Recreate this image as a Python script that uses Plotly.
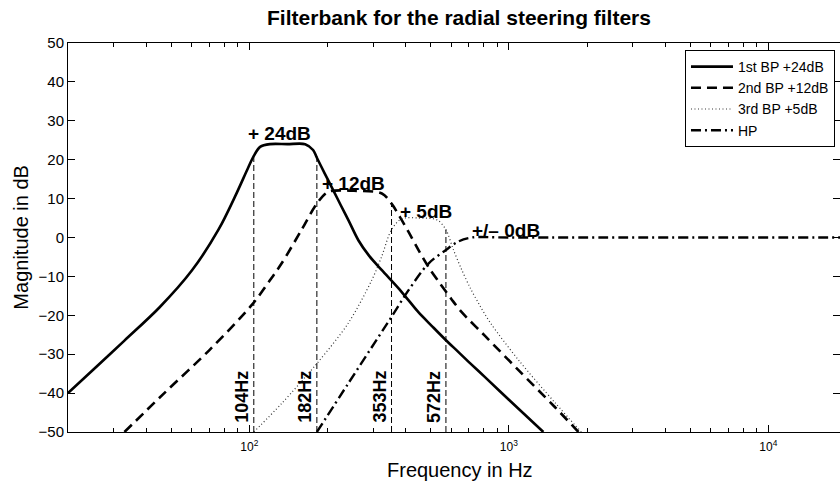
import math
import plotly.graph_objects as go

# values (frequency in Hz, magnitude in dB)
freq_bp1 = [20, 25, 33, 45, 60, 76, 88, 99, 104, 110, 120, 140, 164, 176, 182, 195, 211, 225, 241,
            263, 290, 324, 375, 410, 448, 504, 572, 638, 698, 809, 1000, 1358]
db_bp1 = [-40, -34, -26.5, -18, -8.5, 2, 10.5, 18, 21, 23.3, 24, 24, 24, 22.5, 20.5, 16.5, 12, 8.3, 4.4,
          -0.7, -4.8, -8.4, -13, -16.1, -19.2, -22.7, -26.4, -29.4, -31.9, -35.9, -41.7, -50]

freq_bp2 = [33, 47, 70, 102, 120, 133, 159, 182, 201, 253, 324, 353, 380, 410, 448, 490, 540, 600,
            658, 809, 1089, 1500, 1854]
db_bp2 = [-50, -40, -29, -17.4, -11, -6.7, 2, 8.7, 11.7, 12, 11.3, 8.7, 5.3, 1.5, -3.2, -7.6, -11.6,
          -15.8, -19.2, -25.3, -34.1, -43.5, -50]

freq_bp3 = [104, 133, 182, 240, 296, 323, 353, 386, 449, 530, 572, 610, 655, 710, 773, 850, 1089,
            1507, 1900]
db_bp3 = [-50, -42.7, -32.4, -22.1, -11, -5, 2, 4.8, 5, 4.5, 2, -3, -8, -13, -17.5, -22, -31.5,
          -42.5, -50]

freq_hp = [182, 240, 314, 353, 410, 490, 572, 640, 720, 1000, 20000]
db_hp = [-50, -37.6, -25.6, -20.4, -13.6, -6.7, -3.2, -1, 0, 0, 0]

corner_freqs = [104, 182, 353, 572]
corner_levels = [21, 21, 9, 2]
corner_labels = ["104Hz", "182Hz", "353Hz", "572Hz"]

gain_labels = ["+ 24dB", "+ 12dB", "+ 5dB", "+/\u2013 0dB"]

FONT = "Liberation Sans, Arial, Helvetica, sans-serif"
y_min, y_max = -50, 50

fig = go.Figure()

fig.add_trace(go.Scatter(x=freq_bp1, y=db_bp1, mode="lines", name="1st BP +24dB",
                         line=dict(color="black", width=2.6, shape="spline", smoothing=0.9)))
fig.add_trace(go.Scatter(x=freq_bp2, y=db_bp2, mode="lines", name="2nd BP +12dB",
                         line=dict(color="black", width=2.6, dash="10px,6px", shape="spline", smoothing=0.9)))
fig.add_trace(go.Scatter(x=freq_bp3, y=db_bp3, mode="lines", name="3rd BP +5dB",
                         line=dict(color="#333333", width=1.2, dash="1px,2.5px", shape="spline", smoothing=0.9)))
fig.add_trace(go.Scatter(x=freq_hp, y=db_hp, mode="lines", name="HP",
                         line=dict(color="black", width=2.4, dash="10px,4px,2px,4px", shape="spline",
                                   smoothing=0.9)))

# vertical markers at the corner frequencies
vx, vy = [], []
for f, lvl in zip(corner_freqs, corner_levels):
    vx += [f, f, None]
    vy += [y_min, lvl, None]
fig.add_trace(go.Scatter(x=vx, y=vy, mode="lines", showlegend=False, hoverinfo="skip",
                         line=dict(color="black", width=1, dash="6px,3px")))

annotations = []
for f, txt in zip(corner_freqs, corner_labels):
    annotations.append(dict(x=math.log10(f), y=-41, xref="x", yref="y", text="<b>%s</b>" % txt,
                            showarrow=False, textangle=-90, xanchor="right", yanchor="middle",
                            font=dict(family=FONT, size=18, color="black")))

gain_pos = [(131, 26.7, "center"), (187, 13.9, "left"), (375, 6.6, "left"), (708, 1.9, "left")]
for (f, db, anchor), txt in zip(gain_pos, gain_labels):
    annotations.append(dict(x=math.log10(f), y=db, xref="x", yref="y", text="<b>%s</b>" % txt,
                            showarrow=False, xanchor=anchor, yanchor="middle",
                            font=dict(family=FONT, size=19, color="black")))

annotations.append(dict(x=0.5078, y=-0.0977, xref="paper", yref="paper", text="Frequency in Hz",
                        showarrow=False, xanchor="center", yanchor="middle",
                        font=dict(family=FONT, size=20, color="black")))
annotations.append(dict(x=-0.062, y=0.5, xref="paper", yref="paper", text="Magnitude in dB",
                        showarrow=False, textangle=-90, xanchor="center", yanchor="middle",
                        font=dict(family=FONT, size=20, color="black")))

fig.update_layout(
    width=840, height=481,
    margin=dict(l=68, r=0, t=43, b=49),
    plot_bgcolor="white", paper_bgcolor="white",
    font=dict(family=FONT, color="black"),
    title=dict(text="<b>Filterbank for the radial steering filters</b>", x=0.5065, xref="paper",
               xanchor="center", y=1 - 18 / 481, yref="container", yanchor="middle",
               font=dict(family=FONT, size=21, color="black")),
    legend=dict(x=0.7992, y=0.982, xanchor="left", yanchor="top", bgcolor="white",
                bordercolor="black", borderwidth=1, font=dict(family=FONT, size=14, color="black"),
                tracegroupgap=0, itemwidth=42),
    annotations=annotations,
)

fig.update_xaxes(type="log", range=[1.301, 4.276], showgrid=False, zeroline=False, automargin=False,
                 showline=True, linecolor="black", linewidth=1, mirror="ticks",
                 ticks="inside", ticklen=7, tickcolor="black", ticklabelstandoff=4,
                 tickvals=[100, 1000, 10000],
                 ticktext=["10<sup>2</sup>", "10<sup>3</sup>", "10<sup>4</sup>"],
                 tickfont=dict(family=FONT, size=12, color="black"),
                 minor=dict(ticks="inside", ticklen=4, tickcolor="black", showgrid=False,
                            tickvals=[20, 30, 40, 50, 60, 70, 80, 90, 200, 300, 400, 500, 600, 700,
                                      800, 900, 2000, 3000, 4000, 5000, 6000, 7000, 8000, 9000]))
fig.update_yaxes(range=[y_min, y_max], showgrid=False, zeroline=False, automargin=False,
                 showline=True, linecolor="black", linewidth=1, mirror="ticks",
                 ticks="inside", ticklen=7, tickcolor="black", dtick=10,
                 tickfont=dict(family=FONT, size=15, color="black"))

# the page's default body margin would shift the figure, so drop it
fig.write_html("out.html", config={"displayModeBar": False},
               post_script="document.body.style.margin='0px';")
